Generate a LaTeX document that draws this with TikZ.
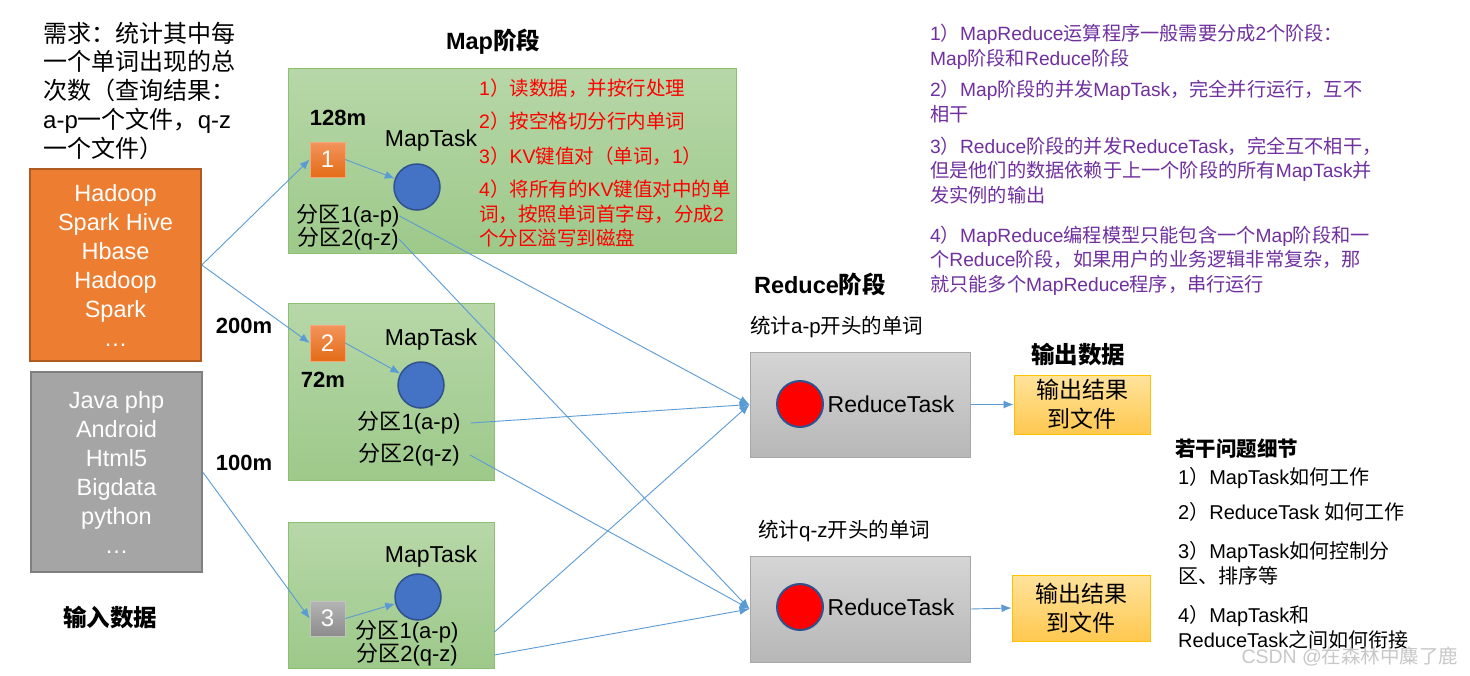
\documentclass[tikz,border=0pt]{standalone}
\usepackage{fontspec}
\setmainfont{Liberation Sans}
\newfontfamily\latf{Liberation Sans}
\newfontfamily\cjkf{Noto Sans CJK SC}
\usetikzlibrary{arrows.meta}
% automatic switch between Latin and CJK fonts
\XeTeXinterchartokenstate=1
\newXeTeXintercharclass\cjkcls
\newcount\cjkcc
\cjkcc="3000 \loop \XeTeXcharclass\cjkcc=\cjkcls \advance\cjkcc 1 \ifnum\cjkcc<"3040 \repeat
\cjkcc="4E00 \loop \XeTeXcharclass\cjkcc=\cjkcls \advance\cjkcc 1 \ifnum\cjkcc<"A000 \repeat
\cjkcc="FF00 \loop \XeTeXcharclass\cjkcc=\cjkcls \advance\cjkcc 1 \ifnum\cjkcc<"FF60 \repeat
\XeTeXinterchartoks 0 \cjkcls = {\cjkf}
\XeTeXinterchartoks 4095 \cjkcls = {\cjkf}
\XeTeXinterchartoks \cjkcls 0 = {\latf}
\XeTeXinterchartoks 4095 0 = {\latf}
\newcommand{\fsz}[2]{\fontsize{#1}{#2}\selectfont}
\definecolor{mapTop}{RGB}{183,215,168}
\definecolor{mapBot}{RGB}{157,201,138}
\definecolor{mapBrd}{RGB}{140,191,112}
\definecolor{redTop}{RGB}{213,213,213}
\definecolor{redBot}{RGB}{183,183,183}
\definecolor{redBrd}{RGB}{168,168,168}
\definecolor{outTop}{RGB}{255,227,156}
\definecolor{outBot}{RGB}{255,200,80}
\definecolor{outBrd}{RGB}{255,192,0}
\definecolor{orgFill}{RGB}{237,125,49}
\definecolor{orgBrd}{RGB}{174,90,33}
\definecolor{gryFill}{RGB}{165,165,165}
\definecolor{gryBrd}{RGB}{127,127,127}
\definecolor{sqTop}{RGB}{242,148,92}
\definecolor{sqBot}{RGB}{228,108,22}
\definecolor{sqgTop}{RGB}{180,180,180}
\definecolor{sqgBot}{RGB}{140,140,140}
\definecolor{cBlue}{RGB}{68,114,196}
\definecolor{cBlueBrd}{RGB}{47,82,143}
\definecolor{purp}{RGB}{112,48,160}
\definecolor{arrc}{RGB}{91,155,213}
\definecolor{wmark}{RGB}{200,200,200}
\begin{document}
\begin{tikzpicture}[x=1pt,y=-1pt,
  arr/.style={draw=arrc, line width=0.9pt, -{Latex[length=10pt,width=8pt]}},
  mapbox/.style={draw=mapBrd, line width=1pt, top color=mapTop, bottom color=mapBot, inner sep=0pt},
  redbox/.style={draw=redBrd, line width=1pt, top color=redTop, bottom color=redBot, inner sep=0pt},
  outbox/.style={draw=outBrd, line width=1pt, top color=outTop, bottom color=outBot, inner sep=0pt, align=center, font=\fsz{23}{29}},
  inbox/.style={line width=1.5pt, inner sep=0pt, text=white, align=center, font=\fsz{23.5}{29}},
  sqorg/.style={draw=sqTop!80!white, line width=0.6pt, top color=sqTop, bottom color=sqBot, text=white, font=\fsz{24}{28}, inner sep=0pt},
  sqgry/.style={draw=sqgTop!80!white, line width=0.6pt, top color=sqgTop, bottom color=sqgBot, text=white, font=\fsz{24}{28}, inner sep=0pt},
  bluec/.style={circle, fill=cBlue, draw=cBlueBrd, line width=1.5pt, minimum size=46pt, inner sep=0pt},
  redc/.style={circle, fill=red, draw=cBlueBrd, line width=2pt, minimum size=46pt, inner sep=0pt},
  lbl/.style={inner sep=0pt, font=\fsz{22}{26}},
  mt/.style={inner sep=0pt, font=\fsz{23}{27}},
  bold/.style={inner sep=0pt, font=\bfseries\fsz{23.5}{28}},
  size/.style={inner sep=0pt, font=\bfseries\fsz{22}{26}},
  redtxt/.style={inner sep=0pt, text=red, anchor=base west, align=left, font=\fsz{19.5}{24.5}},
  purtxt/.style={inner sep=0pt, text=purp, anchor=base west, align=left, font=\fsz{19.2}{24.5}},
  blktxt/.style={inner sep=0pt, anchor=base west, align=left, font=\fsz{20}{25.5}}
]
\useasboundingbox (0,0) rectangle (1470,675);
\fill[white] (0,0) rectangle (1470,675);

% left column (multi-line nodes are placed by the baseline of their last line)
\node[inner sep=0pt, anchor=base west, align=left, font=\fsz{24}{28.8}] (req) at (43,157.2)
  {需求：统计其中每\\一个单词出现的总\\次数（查询结果：\\a-p一个文件，q-z\\一个文件）};
\node[inbox, draw=orgBrd, fill=orgFill, minimum width=171pt, minimum height=192pt] (inA) at (115.5,265)
  {Hadoop\\Spark Hive\\Hbase\\Hadoop\\Spark\\…};
\node[inbox, draw=gryBrd, fill=gryFill, minimum width=171pt, minimum height=200pt] (inB) at (116.5,472)
  {Java php\\Android\\Html5\\Bigdata\\python\\…};
\node[bold] (intitle) at (110,618) {输入数据};
\node[size] (s200) at (244,326) {200m};
\node[size] (s100) at (244,463) {100m};

% map stage
\node[bold] (maptitle) at (493,42) {Map阶段};
\node[mapbox, minimum width=448pt, minimum height=185pt] (map1) at (512,160.5) {};
\node[mapbox, minimum width=206pt, minimum height=177pt] (map2) at (391,391.5) {};
\node[mapbox, minimum width=206pt, minimum height=146pt] (map3) at (391,595) {};

\node[size] (s128) at (338,118) {128m};
\node[sqorg, minimum width=35pt, minimum height=35pt] (sq1) at (327.5,159.5) {1};
\node[mt] (mt1) at (431,141) {MapTask};
\node[bluec] (c1) at (417,187) {};
\node[lbl] (m1a) at (348,216) {分区1(a-p)};
\node[lbl] (m1b) at (348,239) {分区2(q-z)};

\node[redtxt] (r1t) at (479,95.5) {1）读数据，并按行处理};
\node[redtxt] (r2t) at (479,128.5) {2）按空格切分行内单词};
\node[redtxt] (r3t) at (479,163.5) {3）KV键值对（单词，1）};
\node[redtxt] (r4t) at (479,245.5) {4）将所有的KV键值对中的单\\词，按照单词首字母，分成2\\个分区溢写到磁盘};

\node[sqorg, minimum width=35pt, minimum height=36pt] (sq2) at (327.5,343) {2};
\node[size] (s72) at (323,380) {72m};
\node[mt] (mt2) at (431,340) {MapTask};
\node[bluec] (c2) at (421,385) {};
\node[lbl] (m2a) at (409,423) {分区1(a-p)};
\node[lbl] (m2b) at (409,455) {分区2(q-z)};

\node[sqgry, minimum width=35pt, minimum height=35pt] (sq3) at (327.5,618.5) {3};
\node[mt] (mt3) at (431,557) {MapTask};
\node[bluec] (c3) at (418,597) {};
\node[lbl] (m3a) at (407,632) {分区1(a-p)};
\node[lbl] (m3b) at (407,655) {分区2(q-z)};

% reduce stage
\node[bold] (redtitle) at (820,284) {Reduce阶段};
\node[inner sep=0pt, anchor=west, font=\fsz{20.5}{25}] (lab1) at (750,327) {统计a-p开头的单词};
\node[inner sep=0pt, anchor=west, font=\fsz{20.5}{25}] (lab2) at (758,531) {统计q-z开头的单词};
\node[redbox, minimum width=220pt, minimum height=105pt] (r1) at (860,404.5) {};
\node[redbox, minimum width=220pt, minimum height=106pt] (r2) at (860,609) {};
\node[redc] (rc1) at (800,404) {};
\node[redc] (rc2) at (800,607) {};
\node[mt] (rt1) at (891,404) {ReduceTask};
\node[mt] (rt2) at (891,607) {ReduceTask};

\node[bold] (outtitle) at (1078,355) {输出数据};
\node[outbox, minimum width=136pt, minimum height=59pt] (o1) at (1082,404.5) {输出结果\\到文件};
\node[outbox, minimum width=138pt, minimum height=66pt] (o2) at (1081,608) {输出结果\\到文件};

% purple notes
\node[purtxt] (p1) at (930,65) {1）MapReduce运算程序一般需要分成2个阶段：\\Map阶段和Reduce阶段};
\node[purtxt] (p2) at (930,121) {2）Map阶段的并发MapTask，完全并行运行，互不\\相干};
\node[purtxt] (p3) at (930,202) {3）Reduce阶段的并发ReduceTask，完全互不相干，\\但是他们的数据依赖于上一个阶段的所有MapTask并\\发实例的输出};
\node[purtxt] (p4) at (930,291) {4）MapReduce编程模型只能包含一个Map阶段和一\\个Reduce阶段，如果用户的业务逻辑非常复杂，那\\就只能多个MapReduce程序，串行运行};

% questions
\node[inner sep=0pt, anchor=base west, font=\bfseries\fsz{20.5}{25}] (qt) at (1175,456.5) {若干问题细节};
\node[blktxt] (q1) at (1178,484.5) {1）MapTask如何工作};
\node[blktxt] (q2) at (1178,519.5) {2）ReduceTask 如何工作};
\node[blktxt] (q3) at (1178,583.6) {3）MapTask如何控制分\\区、排序等};
\node[blktxt] (q4) at (1178,647.6) {4）MapTask和\\ReduceTask之间如何衔接};

\node[inner sep=0pt, text=wmark, font=\fsz{19.5}{24}] (wm) at (1350,657) {CSDN @在森林中麋了鹿};

% connectors
\draw[arr] (inA.east) -- (sq1.west);
\draw[arr] (inA.east) -- (sq2.west);
\draw[arr] (inB.east) -- (sq3.west);
\draw[arr] (sq1.east) -- (c1);
\draw[arr] (sq2.east) -- (c2);
\draw[arr] (sq3.east) -- (c3);
\draw[arr] (m1a.east) -- (r1.west);
\draw[arr] (m1b.east) -- (r2.west);
\draw[arr] ([xshift=10pt]m2a.east) -- (r1.west);
\draw[arr] ([xshift=10pt]m2b.east) -- (r2.west);
\draw[arr] (m3a.east -| map3.east) -- (r1.west);
\draw[arr] (m3b.east -| map3.east) -- (r2.west);
\draw[arr] (r1.east) -- (o1.west);
\draw[arr] (r2.east) -- (o2.west);
\end{tikzpicture}
\end{document}
